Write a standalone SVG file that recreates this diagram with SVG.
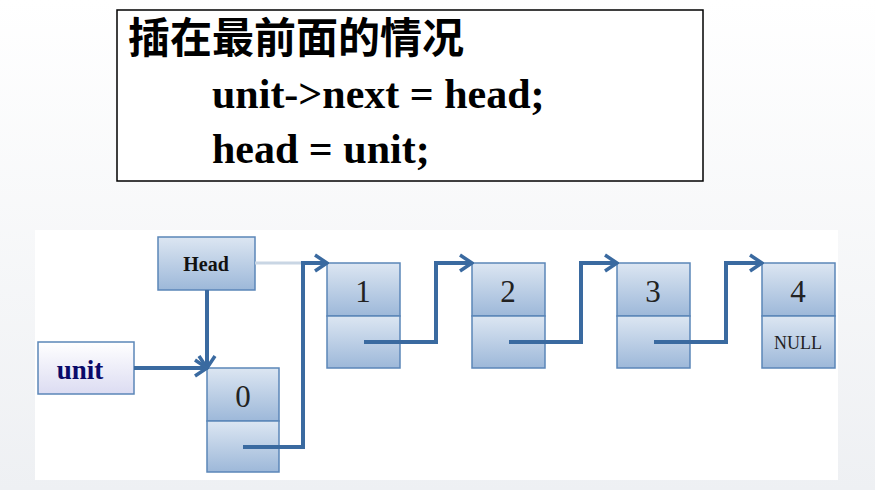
<svg xmlns="http://www.w3.org/2000/svg" width="875" height="490" viewBox="0 0 875 490">
<defs>
<linearGradient id="bg" x1="0" y1="0" x2="0" y2="1"><stop offset="0" stop-color="#ffffff"/><stop offset="1" stop-color="#eef0f3"/></linearGradient>
<linearGradient id="cell" x1="0" y1="0" x2="0" y2="1"><stop offset="0" stop-color="#dce6f2"/><stop offset="1" stop-color="#9db8d9"/></linearGradient>
<linearGradient id="ucell" x1="0" y1="0" x2="0" y2="1"><stop offset="0" stop-color="#ffffff"/><stop offset="1" stop-color="#dcdcf2"/></linearGradient>
<marker id="ar" markerWidth="16" markerHeight="20" refX="14" refY="10" orient="auto" markerUnits="userSpaceOnUse"><path d="M2,2 L14,10 L2,18" fill="none" stroke="#3a6aa0" stroke-width="3.5"/></marker>
</defs>
<style>
.c{fill:url(#cell);stroke:#5b86b8;stroke-width:1.5}
.n{font-family:"Liberation Serif",serif;font-size:31px;fill:#222;text-anchor:middle}
.w{fill:none;stroke:#3a6aa0;stroke-width:4;stroke-linejoin:miter}
.code{font-family:"Liberation Serif",serif;font-weight:bold;font-size:42px;fill:#000}
</style>
<rect width="875" height="490" fill="url(#bg)"/>
<rect x="35" y="230" width="803" height="250" fill="#fff"/>
<g id="title">
<rect x="117" y="10" width="586" height="171" fill="#fff" stroke="#000" stroke-width="1.5"/>
<text x="128" y="53" font-family="Noto Sans CJK SC, sans-serif" font-weight="bold" font-size="42" fill="#000">插在最前面的情况</text>
<text class="code" x="212" y="108">unit-&gt;next = head;</text>
<text class="code" x="212" y="163">head = unit;</text>
</g>
<g id="head"><rect class="c" x="158" y="237" width="97" height="53"/><text x="206" y="271" font-family="Liberation Serif,serif" font-weight="bold" font-size="20" text-anchor="middle" fill="#111">Head</text></g>
<g id="unit"><rect x="38" y="342" width="96" height="52" fill="url(#ucell)" stroke="#5b86b8" stroke-width="1.5"/><text x="80" y="379" font-family="Liberation Serif,serif" font-weight="bold" font-size="27" text-anchor="middle" fill="#0a0a6a">unit</text></g>
<g id="node0"><rect class="c" x="207" y="368" width="72" height="53"/><rect class="c" x="207" y="421" width="72" height="51"/><text class="n" x="243" y="407">0</text></g>
<g id="node1"><rect class="c" x="327" y="263" width="73" height="53"/><rect class="c" x="327" y="316" width="73" height="52"/><text class="n" x="363" y="302">1</text></g>
<g id="node2"><rect class="c" x="472" y="263" width="73" height="53"/><rect class="c" x="472" y="316" width="73" height="52"/><text class="n" x="508" y="302">2</text></g>
<g id="node3"><rect class="c" x="617" y="263" width="73" height="53"/><rect class="c" x="617" y="316" width="73" height="52"/><text class="n" x="653" y="302">3</text></g>
<g id="node4"><rect class="c" x="762" y="263" width="73" height="53"/><rect class="c" x="762" y="316" width="73" height="52"/><text class="n" x="798" y="302">4</text><text x="798" y="349" font-family="Liberation Serif,serif" font-size="18" text-anchor="middle" fill="#222">NULL</text></g>
<g id="connectors">
<line x1="255" y1="263" x2="303" y2="263" stroke="#c9d6e4" stroke-width="3"/>
<polyline class="w" points="243,447 303,447 303,263 327,263" marker-end="url(#ar)"/>
<line class="w" x1="207" y1="290" x2="207" y2="368" marker-end="url(#ar)"/>
<line class="w" x1="134" y1="368" x2="207" y2="368" marker-end="url(#ar)"/>
<polyline class="w" points="364,342 436,342 436,263 472,263" marker-end="url(#ar)"/>
<polyline class="w" points="509,342 581,342 581,263 617,263" marker-end="url(#ar)"/>
<polyline class="w" points="654,342 726,342 726,263 762,263" marker-end="url(#ar)"/>
</g>
</svg>
